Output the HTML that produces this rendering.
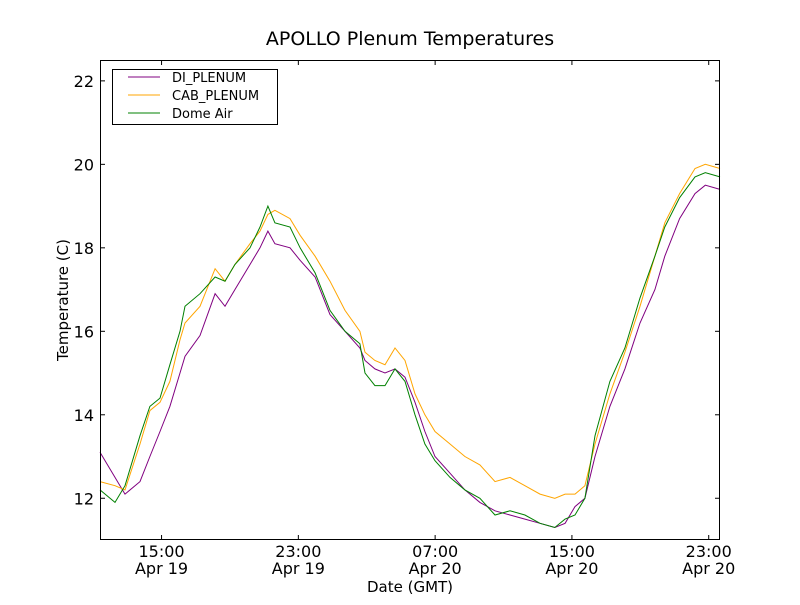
<!DOCTYPE html>
<html><head><meta charset="utf-8"><style>
body{margin:0;background:#fff}
svg text{font-family:"DejaVu Sans","Liberation Sans",sans-serif}
</style></head><body>
<svg id="c" width="800" height="600" xmlns="http://www.w3.org/2000/svg">
<rect width="800" height="600" fill="#fff"/>
<text x="410" y="45" font-size="19" text-anchor="middle">APOLLO Plenum Temperatures</text>
<g id="plot"></g>
<text x="410" y="592" font-size="15" text-anchor="middle">Date (GMT)</text>
<text transform="translate(68,300) rotate(-90)" font-size="15" text-anchor="middle">Temperature (C)</text>
<g>
<rect x="112.5" y="69.5" width="165" height="55" fill="#fff" stroke="#000"/>
<line x1="128" x2="160" y1="77" y2="77" stroke="#800080"/>
<text x="172" y="82" font-size="13">DI_PLENUM</text>
<line x1="128" x2="160" y1="95" y2="95" stroke="#ffa500"/>
<text x="172" y="100" font-size="13">CAB_PLENUM</text>
<line x1="128" x2="160" y1="113" y2="113" stroke="#008000"/>
<text x="172" y="118" font-size="13">Dome Air</text>
</g>
</svg>
<script>
const times=[11.4,12.28,12.86,13.74,14.32,14.91,15.49,16.08,16.37,17.25,18.13,18.71,19.29,20.17,20.76,21.22,21.63,22.51,23.1,23.98,24.85,25.73,26.6,26.9,27.48,28.07,28.65,29.24,29.82,30.4,30.99,31.87,32.74,33.62,34.5,35.38,36.25,37.13,38.0,38.6,39.18,39.76,40.35,41.22,42.1,42.98,43.85,44.43,45.3,46.2,46.8,47.66];
const diPlenum=[13.1,12.5,12.1,12.4,13.0,13.6,14.2,15.0,15.4,15.9,16.9,16.6,17.0,17.6,18.0,18.4,18.1,18.0,17.7,17.3,16.4,16.0,15.6,15.3,15.1,15.0,15.1,14.9,14.3,13.6,13.0,12.6,12.2,11.9,11.7,11.6,11.5,11.4,11.3,11.4,11.8,12.0,13.0,14.2,15.1,16.2,17.0,17.8,18.7,19.3,19.5,19.4];
const cabPlenum=[12.4,12.3,12.2,13.3,14.1,14.3,14.8,15.8,16.2,16.6,17.5,17.2,17.6,18.1,18.4,18.8,18.9,18.7,18.3,17.8,17.2,16.5,16.0,15.5,15.3,15.2,15.6,15.3,14.5,14.0,13.6,13.3,13.0,12.8,12.4,12.5,12.3,12.1,12.0,12.1,12.1,12.3,13.3,14.5,15.5,16.6,17.8,18.6,19.3,19.9,20.0,19.9];
const domeAir=[12.2,11.9,12.3,13.5,14.2,14.4,15.2,16.0,16.6,16.9,17.3,17.2,17.6,18.0,18.5,19.0,18.6,18.5,18.0,17.4,16.5,16.0,15.7,15.0,14.7,14.7,15.1,14.8,14.0,13.3,12.9,12.5,12.2,12.0,11.6,11.7,11.6,11.4,11.3,11.5,11.6,12.0,13.5,14.8,15.6,16.8,17.8,18.5,19.2,19.7,19.8,19.7];
const yTicks=[12,14,16,18,20,22];
const xTicks=[15,23,31,39,47];
const xTickTop=["15:00","23:00","07:00","15:00","23:00"];
const xTickBot=["Apr 19","Apr 19","Apr 20","Apr 20","Apr 20"];
const L=100,R=720,T=60,B=540,t0=11.4,t1=47.66,v0=11,v1=22.5;
const xs=t=>L+(t-t0)/(t1-t0)*(R-L);
const ys=v=>B-(v-v0)/(v1-v0)*(B-T);
const NS="http://www.w3.org/2000/svg";
const g=document.getElementById('plot');
function mk(tag,at){const e=document.createElementNS(NS,tag);for(const k in at)e.setAttribute(k,at[k]);g.appendChild(e);return e;}
[[diPlenum,'#800080','di-plenum'],[cabPlenum,'#ffa500','cab-plenum'],[domeAir,'#008000','dome-air']].forEach(([s,c,n])=>{
  const p=mk('polyline',{points:s.map((v,i)=>xs(times[i]).toFixed(1)+','+ys(v).toFixed(1)).join(' '),fill:'none',stroke:c,'stroke-width':1});
  
  
});
const fr=mk('rect',{x:L+.5,y:T+.5,width:R-L-1,height:B-T-1,fill:'none',stroke:'#000'});


yTicks.forEach(v=>{const y=ys(v);
  mk('line',{x1:L,x2:L+5,y1:y,y2:y,stroke:'#000'});mk('line',{x1:R-5,x2:R,y1:y,y2:y,stroke:'#000'});
  const t=mk('text',{x:L-6,y:y+6,'font-size':16,'text-anchor':'end'});t.textContent=v;
  
  
});
xTicks.forEach((h,i)=>{const x=xs(h);
  mk('line',{x1:x,x2:x,y1:B,y2:B-5,stroke:'#000'});mk('line',{x1:x,x2:x,y1:T,y2:T+5,stroke:'#000'});
  const a=mk('text',{x:x,y:B+17,'font-size':16,'text-anchor':'middle'});a.textContent=xTickTop[i];
  
  
  const b=mk('text',{x:x,y:B+34,'font-size':16,'text-anchor':'middle'});b.textContent=xTickBot[i];
  
  
});
</script>
</body></html>
